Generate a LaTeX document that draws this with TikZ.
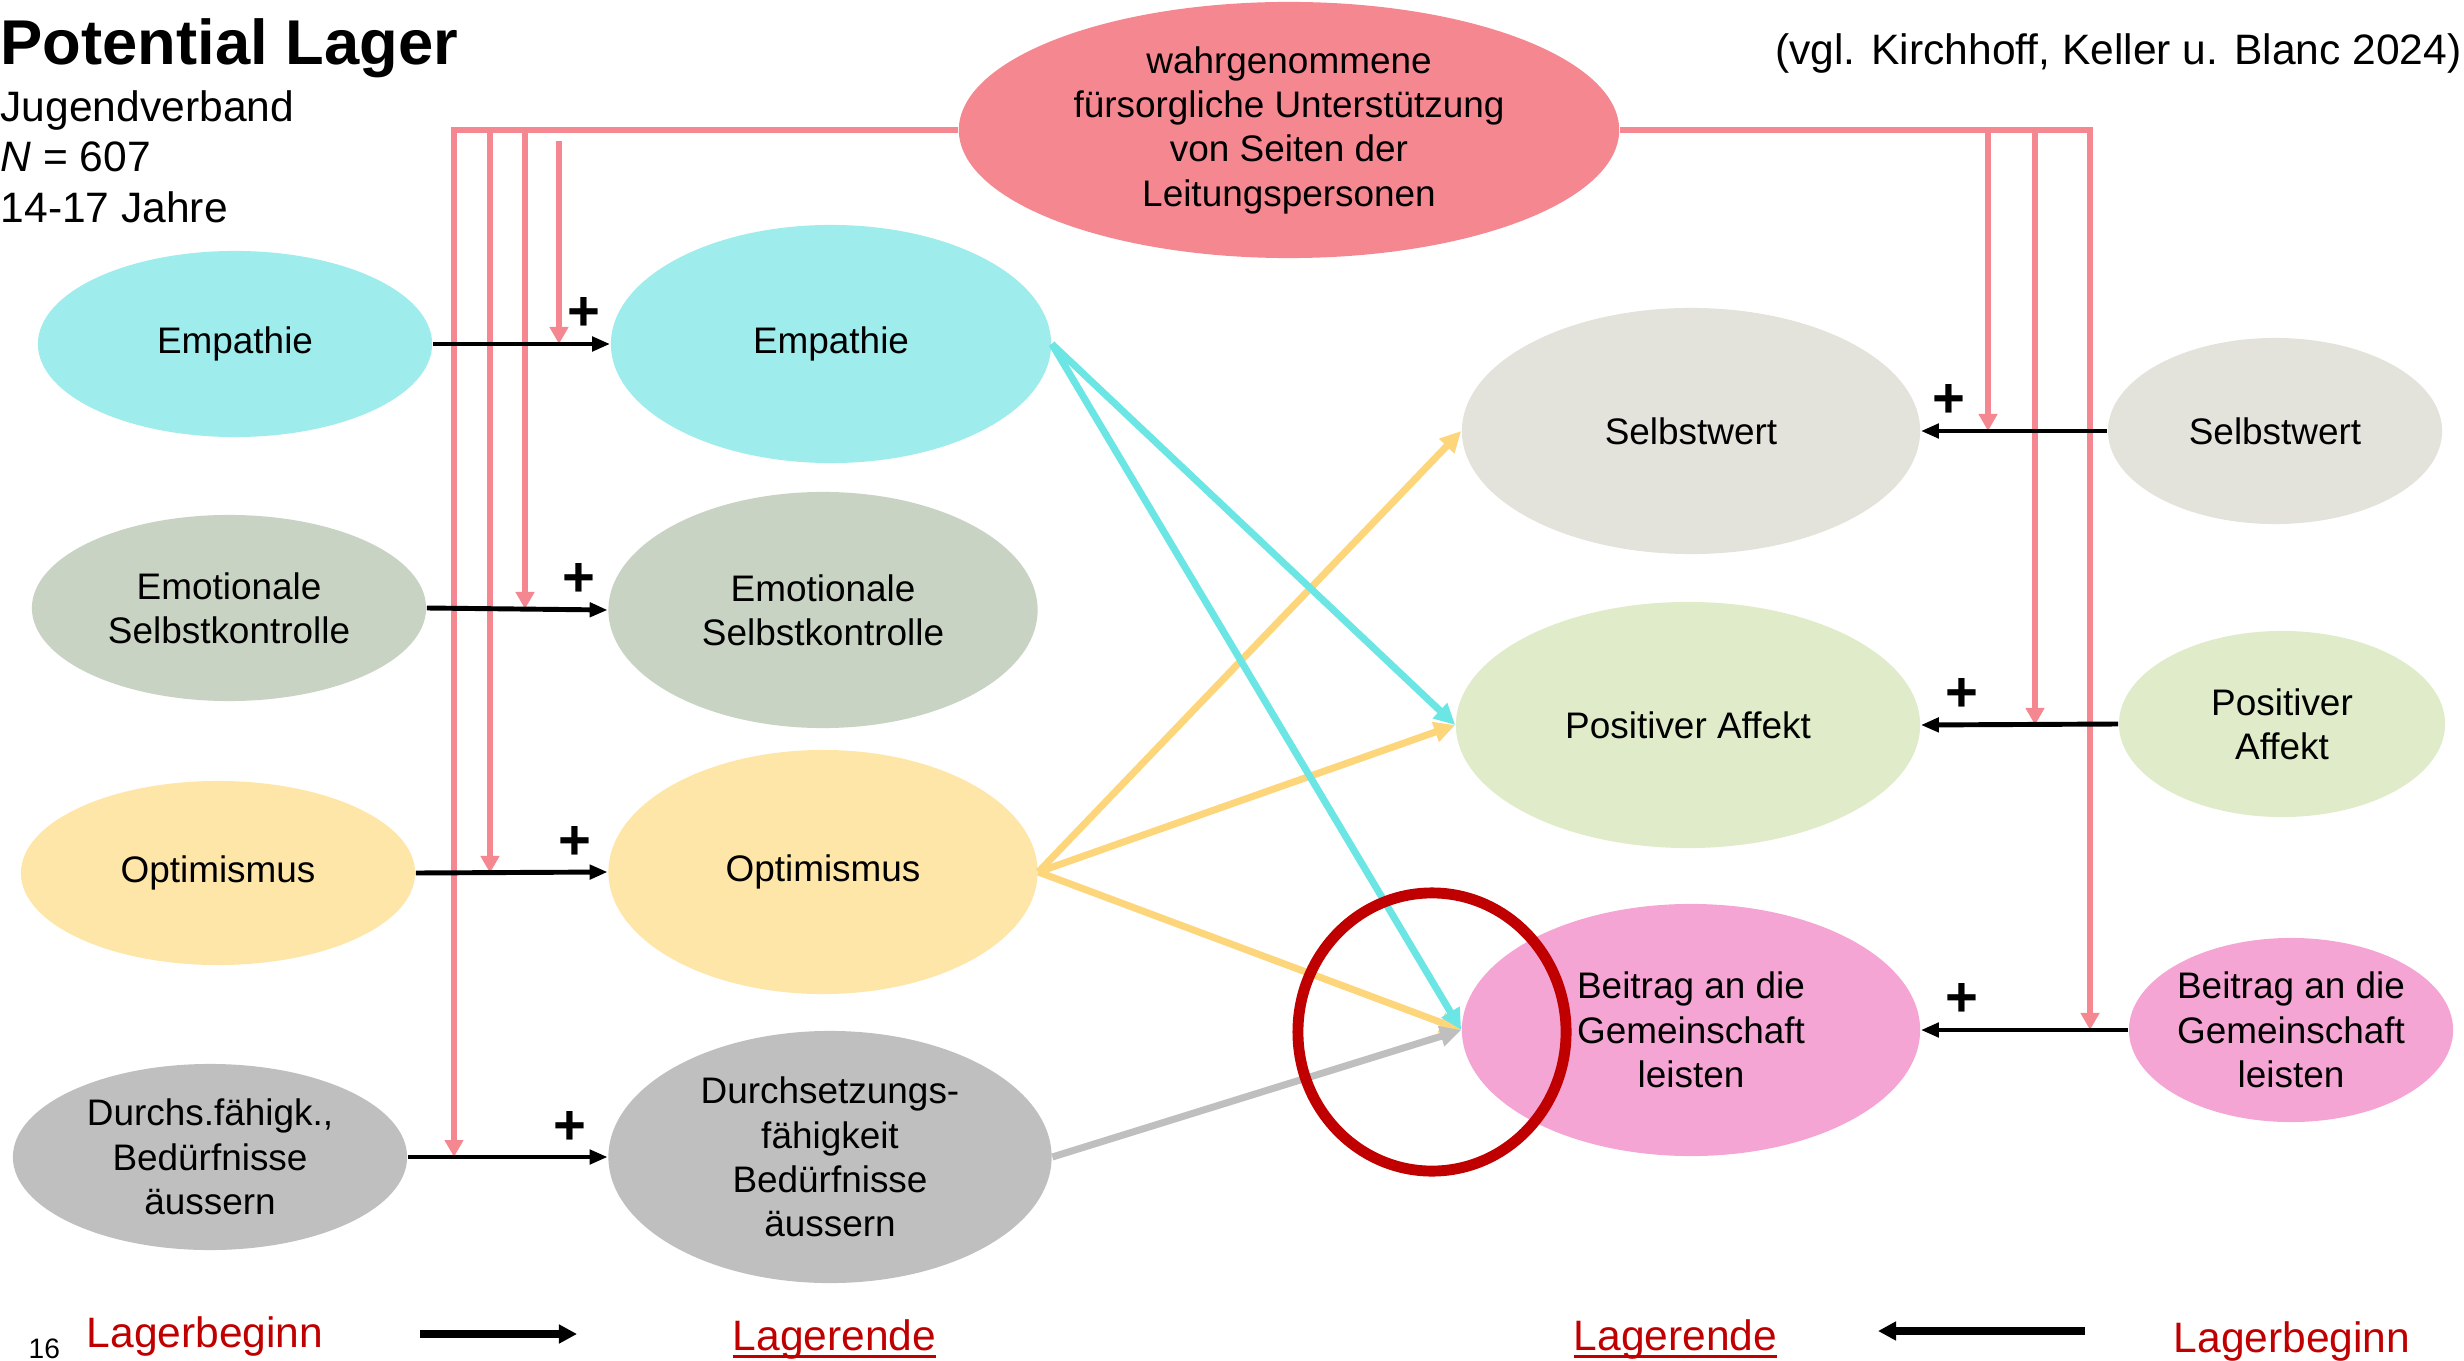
\documentclass[tikz,border=0pt]{standalone}
\usepackage{fontspec}
\setmainfont{Liberation Sans}
\usetikzlibrary{shapes.geometric,arrows.meta}

\definecolor{empfarbe}{HTML}{9EECEC}
\definecolor{emofarbe}{HTML}{C9D3C3}
\definecolor{optfarbe}{HTML}{FEE6A8}
\definecolor{durfarbe}{HTML}{BFBFBF}
\definecolor{leifarbe}{HTML}{F4878F}
\definecolor{selfarbe}{HTML}{E3E3DB}
\definecolor{posfarbe}{HTML}{E0ECC9}
\definecolor{beifarbe}{HTML}{F5A5D3}
\definecolor{cyanpfeil}{HTML}{6CE6E4}
\definecolor{gelbpfeil}{HTML}{FDD67C}
\definecolor{dunkelrot}{HTML}{C00000}

\newcommand{\unterstr}[1]{\setbox0\hbox{#1}\rlap{\rule[-2.4pt]{\wd0}{1.1pt}}\box0}

\begin{document}
\begin{tikzpicture}[x=0.01cm,y=-0.01cm]
\tikzstyle{every node}=[font=\fontsize{10.5}{12.6}\selectfont,inner sep=0]
\tikzstyle{bubble}=[ellipse,align=center]
\tikzstyle{kopf}=[anchor=base west,font=\fontsize{12.1}{14.5}\selectfont]
\tikzstyle{lage}=[anchor=base west,text=dunkelrot,font=\fontsize{12.1}{14.5}\selectfont]
\tikzstyle{pfeil}=[line width=1.4pt,-{Triangle[length=0.18cm,width=0.14cm]}]
\tikzstyle{einfluss}=[leifarbe,line width=1.5pt,-{Triangle[length=0.17cm,width=0.18cm]}]
\tikzstyle{effekt}=[line width=2pt,-{Triangle[length=0.21cm,width=0.2cm]}]
\tikzstyle{zeit}=[line width=2.2pt,-{Triangle[length=0.18cm,width=0.18cm]}]
\tikzstyle{plus}=[font=\fontsize{16}{16}\bfseries\selectfont,above=3pt,pos=.83]
\useasboundingbox (0,0) rectangle (2464,1361);

% Kopf
\node[anchor=base west,font=\fontsize{18}{18}\bfseries\selectfont] (titel) at (0,65) {Potential Lager};
\node[kopf] (gruppe) at (0,122) {Jugendverband};
\node[kopf] (stichprobe) at (0,172) {\textit{N} = 607};
\node[kopf] (alter) at (0,223) {14-17 Jahre};
\node[anchor=base east,font=\fontsize{12.1}{14.5}\selectfont] (quelle) at (2462,65) {(vgl. Kirchhoff, Keller u. Blanc 2024)};

% Lagerbeginn links
\node[bubble,fill=empfarbe,minimum width=3.94cm,minimum height=1.86cm] (lEmp) at (235,344) {Empathie};
\node[bubble,fill=emofarbe,minimum width=3.94cm,minimum height=1.86cm] (lEmo) at (229,608) {Emotionale\\Selbstkontrolle};
\node[bubble,fill=optfarbe,minimum width=3.94cm,minimum height=1.84cm] (lOpt) at (218,873) {Optimismus};
\node[bubble,fill=durfarbe,minimum width=3.94cm,minimum height=1.86cm] (lDur) at (210,1157) {Durchs.fähigk.,\\Bedürfnisse\\äussern};

% Lagerende links
\node[bubble,fill=empfarbe,minimum width=4.40cm,minimum height=2.38cm] (eEmp) at (831,344) {Empathie};
\node[bubble,fill=emofarbe,minimum width=4.29cm,minimum height=2.36cm] (eEmo) at (823,610) {Emotionale\\Selbstkontrolle};
\node[bubble,fill=optfarbe,minimum width=4.29cm,minimum height=2.44cm] (eOpt) at (823,872) {Optimismus};
\node[bubble,fill=durfarbe,minimum width=4.43cm,minimum height=2.52cm] (eDur) at (830,1157) {Durchsetzungs-\\fähigkeit\\Bedürfnisse\\äussern};

% Leitungspersonen
\node[bubble,fill=leifarbe,minimum width=6.60cm,minimum height=2.56cm] (leitung) at (1289,130) {wahrgenommene\\fürsorgliche Unterstützung\\von Seiten der\\Leitungspersonen};

% Lagerende rechts
\node[bubble,fill=selfarbe,minimum width=4.58cm,minimum height=2.46cm] (eSel) at (1691,431) {Selbstwert};
\node[bubble,fill=posfarbe,minimum width=4.64cm,minimum height=2.46cm] (ePos) at (1688,725) {Positiver Affekt};
\node[bubble,fill=beifarbe,minimum width=4.58cm,minimum height=2.52cm] (eBei) at (1691,1030) {Beitrag an die\\Gemeinschaft\\leisten};

% Lagerbeginn rechts
\node[bubble,fill=selfarbe,minimum width=3.34cm,minimum height=1.86cm] (lSel) at (2275,431) {Selbstwert};
\node[bubble,fill=posfarbe,minimum width=3.26cm,minimum height=1.86cm] (lPos) at (2282,724) {Positiver\\Affekt};
\node[bubble,fill=beifarbe,minimum width=3.24cm,minimum height=1.84cm] (lBei) at (2291,1030) {Beitrag an die\\Gemeinschaft\\leisten};

% Einfluss der Leitungspersonen
\coordinate (p1) at (559,0 |- lEmp.east);
\coordinate (p2) at (525,609);
\coordinate (p3) at (490,0 |- lOpt.east);
\coordinate (p4) at (454,0 |- lDur.east);
\coordinate (q1) at (1988,0 |- eSel.east);
\coordinate (q2) at (2035,0 |- ePos.east);
\coordinate (q3) at (2090,0 |- eBei.east);
\draw[einfluss] (leitung.west) -| (p4);
\foreach \p in {p2,p3} \draw[einfluss] (leitung.west -| \p) -- (\p);
\draw[einfluss] ([yshift=-3pt]leitung.west -| p1) -- (p1);
\draw[einfluss] (leitung.east) -| (q3);
\foreach \q in {q1,q2} \draw[einfluss] (leitung.east -| \q) -- (\q);

% Stabilitaet
\draw[pfeil] (lEmp.east) -- node[plus,pos=.85]{+} (eEmp.west);
\draw[pfeil] (lEmo.east) -- node[plus,pos=.84]{+} (eEmo.west);
\draw[pfeil] (lOpt.east) -- node[plus]{+} (eOpt.west);
\draw[pfeil] (lDur.east) -- node[plus,pos=.81]{+} (eDur.west);
\draw[pfeil] (lSel.west) -- node[plus,pos=.85]{+} (eSel.east);
\draw[pfeil] (lPos.west) -- node[plus,pos=.79]{+} (ePos.east);
\draw[pfeil] (lBei.west) -- node[plus,pos=.8]{+} (eBei.east);

% Effekte
\draw[effekt,gelbpfeil] (eOpt.east) -- (eSel.west);
\draw[effekt,gelbpfeil] (eOpt.east) -- (ePos.west);
\draw[effekt,gelbpfeil] (eOpt.east) -- (eBei.west);
\draw[effekt,durfarbe] (eDur.east) -- (eBei.west);
\draw[effekt,cyanpfeil] (eEmp.east) -- (ePos.west);
\draw[effekt,cyanpfeil] (eEmp.east) -- (eBei.west);

\node[ellipse,draw=dunkelrot,line width=3.1pt,minimum width=2.68cm,minimum height=2.78cm] (kreis) at (1432,1032) {};

% Zeitachse
\node[anchor=base west,font=\fontsize{8}{8}\selectfont] (seite) at (28,1358) {16};
\node[lage] (beginnL) at (86,1347) {Lagerbeginn};
\node[lage] (endeL) at (732,1350) {\unterstr{Lagerende}};
\node[lage] (endeR) at (1573,1350) {\unterstr{Lagerende}};
\node[lage] (beginnR) at (2173,1352) {Lagerbeginn};
\coordinate (z1) at (420,1334);
\coordinate (z2) at (577,1334);
\coordinate (z3) at (2085,1331);
\coordinate (z4) at (1878,1331);
\draw[zeit] (z1) -- (z2);
\draw[zeit] (z3) -- (z4);
\end{tikzpicture}
\end{document}
